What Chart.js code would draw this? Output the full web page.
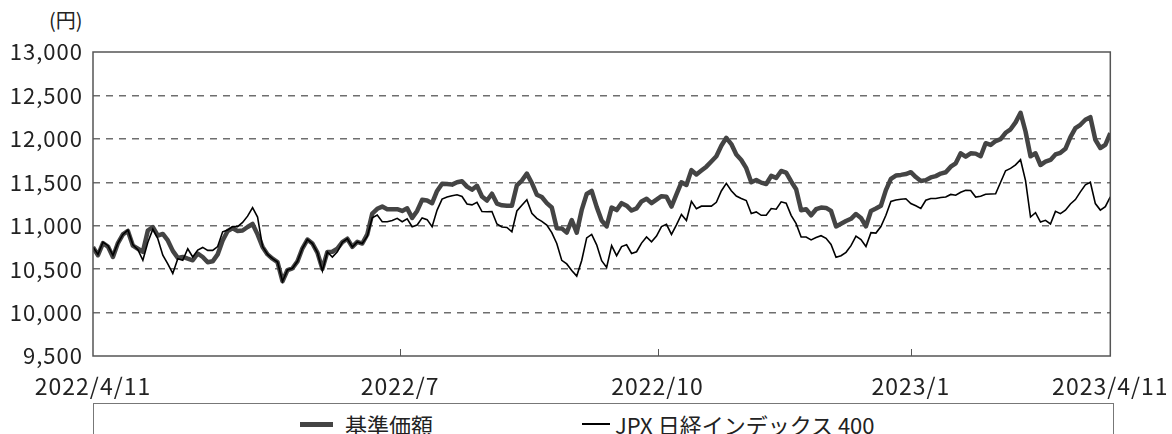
<!DOCTYPE html>
<html lang="ja">
<head>
<meta charset="utf-8">
<title>基準価額とJPX日経インデックス400の推移</title>
<script src="https://cdn.jsdelivr.net/npm/chart.js@4.4.1/dist/chart.umd.min.js"></script>
<style>
	body {
		margin: 0;
		background: #fff;
		width: 1172px;
		height: 434px;
		overflow: hidden;
		position: relative;
		font-family: 'Noto Sans CJK JP', 'Noto Sans', sans-serif;
		color: #222;
	}
	#unit { position: absolute; left: 49px; top: 5px; font-size: 20px; }
	#wrap { position: absolute; left: 0; top: 0; width: 1172px; height: 400px; }
	#legend {
		position: absolute; left: 93px; top: 403px;
		width: 1019px; height: 60px;
		border: 1px solid #777;
	}
	#legend .swatch { position: absolute; background: #000; }
	#legend .label { position: absolute; top: 5px; font-size: 22px; line-height: 30px; white-space: nowrap; }
</style>
</head>
<body>
<div id="unit">(円)</div>
<div id="wrap"><canvas id="chart" width="1172" height="400"></canvas></div>
<div id="legend">
	<div class="swatch" style="left:206px; top:18px; width:33px; height:5px; background:#444;"></div>
	<div class="label" style="left:251px;">基準価額</div>
	<div class="swatch" style="left:488px; top:19px; width:28px; height:2px;"></div>
	<div class="label" style="left:521px;">JPX 日経インデックス 400</div>
</div>
<script>
// 基準価額 (thick line), sampled evenly from 2022/4/11 to 2023/4/11
const fund = [
	10754, 10660, 10800, 10760, 10640, 10800, 10900, 10940, 10770, 10735, 10700, 10945, 10985, 10886, 10905, 10830, 10710,
	10630, 10640, 10620, 10602, 10680, 10640, 10580, 10590, 10670, 10830, 10940, 10970, 10940, 10945, 10985, 11020, 10900,
	10756, 10670, 10620, 10581, 10360, 10490, 10510, 10590, 10740, 10841, 10795, 10690, 10504, 10698, 10700, 10736, 10810,
	10850, 10756, 10814, 10795, 10900, 11140, 11195, 11220, 11190, 11190, 11190, 11170, 11200, 11090, 11170, 11298,
	11290, 11260, 11400, 11484, 11480, 11473, 11500, 11512, 11450, 11415, 11460, 11337, 11290, 11368, 11255, 11235, 11230,
	11229, 11465, 11520, 11600, 11492, 11357, 11330, 11260, 11210, 10970, 10969, 10920, 11066, 10920, 11182, 11365,
	11400, 11217, 11060, 10992, 11209, 11180, 11260, 11230, 11175, 11200, 11280, 11310, 11260, 11300, 11340, 11333, 11220,
	11360, 11500, 11469, 11640, 11590, 11635, 11680, 11740, 11800, 11920, 12012, 11940, 11820, 11757, 11663, 11500,
	11527, 11496, 11480, 11574, 11550, 11630, 11612, 11510, 11420, 11178, 11190, 11120, 11190, 11209, 11205, 11170, 10992,
	11023, 11054, 11080, 11135, 11090, 10992, 11170, 11198, 11230, 11410, 11540, 11578, 11585, 11595, 11616, 11560,
	11515, 11525, 11556, 11571, 11600, 11615, 11680, 11718, 11834, 11795, 11834, 11830, 11800, 11950, 11930, 11975, 11996,
	12070, 12110, 12190, 12300, 12085, 11800, 11834, 11699, 11737, 11757, 11820, 11840, 11885, 12020, 12124, 12162, 12220,
	12250, 11990, 11895, 11930, 12066
];

// JPX 日経インデックス 400 (thin line), same sampling
const jpx400 = [
	10754, 10670, 10810, 10770, 10660, 10800, 10900, 10950, 10780, 10725, 10602, 10810, 10960, 10850, 10660, 10560, 10450,
	10620, 10602, 10735, 10640, 10720, 10750, 10716, 10716, 10760, 10930, 10950, 10990, 10990, 11038, 11110, 11208, 11100,
	10760, 10670, 10620, 10581, 10360, 10490, 10510, 10590, 10740, 10841, 10795, 10690, 10480, 10698, 10640, 10700, 10810,
	10850, 10756, 10814, 10795, 10880, 11090, 11124, 11046, 11046, 11060, 11085, 11046, 11080, 10988, 11008, 11090,
	11070, 10988, 11180, 11306, 11330, 11345, 11357, 11337, 11250, 11240, 11270, 11163, 11160, 11163, 11020, 10985, 10980,
	10930, 11170, 11235, 11298, 11143, 11085, 11050, 11008, 10920, 10795, 10601, 10560, 10484, 10420, 10600, 10860,
	10900, 10780, 10597, 10520, 10771, 10655, 10760, 10780, 10680, 10700, 10800, 10870, 10815, 10880, 10990, 11016, 10900,
	11010, 11130, 11060, 11280, 11195, 11225, 11225, 11225, 11270, 11400, 11488, 11403, 11341, 11314, 11290, 11140,
	11159, 11120, 11120, 11198, 11190, 11275, 11260, 11120, 11023, 10870, 10870, 10837, 10865, 10885, 10855, 10785, 10636,
	10655, 10694, 10770, 10880, 10840, 10760, 10920, 10915, 10990, 11120, 11280, 11297, 11305, 11310, 11256, 11230,
	11200, 11293, 11313, 11313, 11324, 11330, 11360, 11351, 11385, 11409, 11405, 11330, 11340, 11363, 11365, 11368, 11500,
	11633, 11660, 11700, 11760, 11520, 11100, 11150, 11042, 11062, 11020, 11165, 11139, 11178, 11250, 11301, 11390, 11470,
	11500, 11255, 11180, 11220, 11332
];

// x axis labels and where they sit in the sample index
const tickLabels = ['2022/4/11', '2022/7', '2022/10', '2023/1', '2023/4/11'];
const tickIndex = [0, 61.6, 113.2, 164, fund.length - 1];

// y axis range
const yMin = 9500;
const yMax = 13000;
const yStep = 500;

const toPoints = arr => arr.map((v, i) => ({ x: i, y: v }));

// slightly wider digits, closer to the original typeface
const spacing = {
	id: 'spacing',
	beforeDraw(chart) {
		chart.ctx.letterSpacing = '1px';
	}
};

// Frame around the plot and short inward ticks on the date axis
const frame = {
	id: 'frame',
	afterDatasetsDraw(chart) {
		const { ctx, chartArea: a, scales: { x } } = chart;
		ctx.save();
		ctx.strokeStyle = '#555';
		ctx.lineWidth = 1.5;
		ctx.strokeRect(a.left, a.top, a.right - a.left, a.bottom - a.top);
		ctx.lineWidth = 1;
		ctx.beginPath();
		for (let i = 1; i < tickIndex.length - 1; i++) {
			const px = Math.round(x.getPixelForValue(tickIndex[i])) + 0.5;
			ctx.moveTo(px, a.bottom);
			ctx.lineTo(px, a.bottom - 7);
		}
		ctx.stroke();
		ctx.restore();
	}
};

Chart.defaults.font.family = "'Noto Sans CJK JP', 'Noto Sans', sans-serif";
Chart.defaults.font.size = 22;
Chart.defaults.color = '#222';

const chart = new Chart(document.getElementById('chart'), {
	type: 'line',
	data: {
		datasets: [
			{
				label: '基準価額',
				data: toPoints(fund),
				borderColor: '#444',
				borderWidth: 4.5,
				pointRadius: 0,
				borderJoinStyle: 'round',
				order: 1
			},
			{
				label: 'JPX 日経インデックス 400',
				data: toPoints(jpx400),
				borderColor: '#000',
				borderWidth: 1.6,
				pointRadius: 0,
				order: 0
			}
		]
	},
	options: {
		responsive: false,
		devicePixelRatio: 1,
		animation: false,
		layout: { padding: { top: 52, right: 59, bottom: 0, left: 0 } },
		plugins: {
			legend: { display: false },
			tooltip: { enabled: false }
		},
		scales: {
			x: {
				type: 'linear',
				min: 0,
				max: fund.length - 1,
				grid: { display: false },
				border: { display: false },
				afterBuildTicks: scale => {
					scale.ticks = tickIndex.map(v => ({ value: v }));
				},
				afterFit: scale => { scale.height = 44; },
				ticks: {
					autoSkip: false,
					maxRotation: 0,
					padding: 8,
					font: { size: 23 },
					callback: (value, index) => tickLabels[index]
				}
			},
			y: {
				min: yMin,
				max: yMax,
				afterFit: scale => { scale.width = 93; },
				grid: {
					drawTicks: false,
					lineWidth: 1.5,
					color: c => (c.tick && (c.tick.value === yMin || c.tick.value === yMax)) ? 'rgba(0,0,0,0)' : '#6e6e6e'
				},
				border: { display: false, dash: [7, 6] },
				ticks: {
					stepSize: yStep,
					padding: 10,
					callback: v => v.toLocaleString('en-US')
				}
			}
		}
	},
	plugins: [spacing, frame]
});
</script>
</body>
</html>
